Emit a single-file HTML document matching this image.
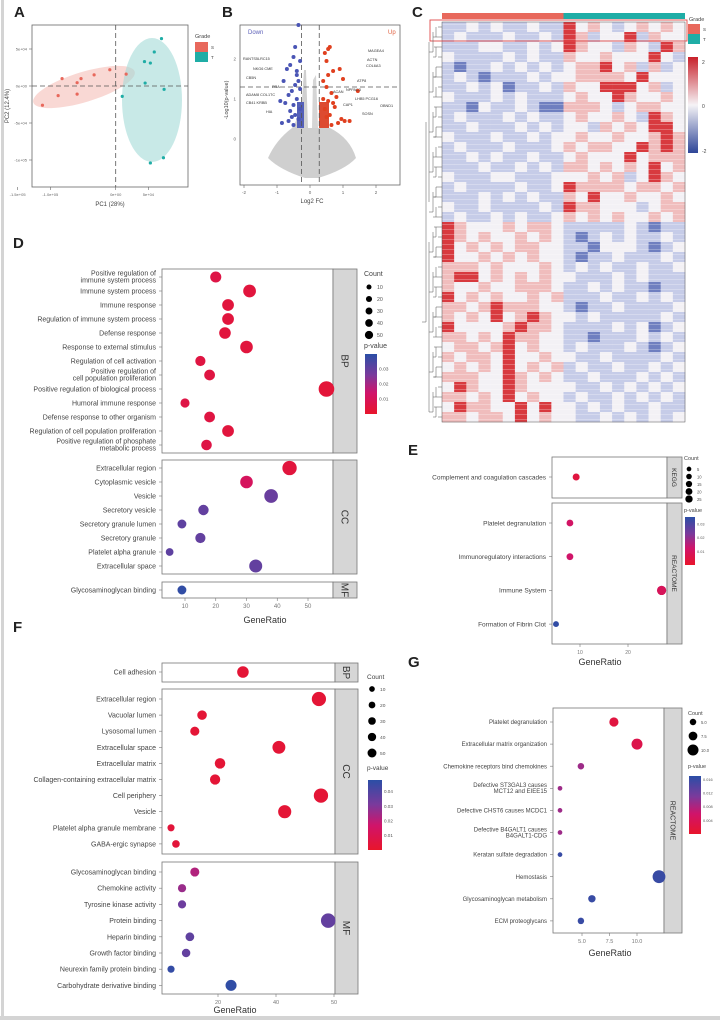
<!DOCTYPE html>
<html><head><meta charset="utf-8"><style>
html,body{margin:0;padding:0;background:#fff}
svg{display:block;font-family:"Liberation Sans",sans-serif}
</style></head><body>
<svg id="fig" width="720" height="1020" viewBox="0 0 720 1020" xmlns="http://www.w3.org/2000/svg">
<rect x="0" y="0" width="720" height="1020" fill="#fff"/>
<rect x="1" y="0" width="3" height="1020" fill="#d4d4d4"/>
<rect x="0" y="1016" width="720" height="4" fill="#d4d4d4"/>
<g id="root"></g>
</svg>
<script>
// ---------- Panel A data (PCA, units 1e4) ----------
const pcaSx=[-8.2,-5.3,-3.3,-0.9,-5.9,-8.8,-5.9,-11.2,1.6];
const pcaSy=[1.0,1.0,1.5,2.2,0.45,-1.3,-1.1,-2.6,1.6];
const pcaTx=[7.0,5.9,4.4,5.3,4.5,7.4,1.0,7.3,5.3];
const pcaTy=[6.4,4.6,3.3,3.1,0.4,-0.45,-1.4,-9.7,-10.4];
const pcaXTicks=[-15,-10,0,5];
const pcaXTickLabels=["-1.5e+05","-1.0e+05","0e+00","5e+04"];
const pcaYTicks=[5,0,-5,-10];
const pcaYTickLabels=["5e+04","0e+00","-5e+04","-1e+05"];
// ---------- Panel B data (volcano) ----------
const downFC=[-0.35,-0.5,-0.6,-0.4,-0.3,-0.7,-0.8,-0.45,-0.55,-0.65,-0.9,-0.3,-0.4,-0.5,-0.35,-0.6,-0.75,-0.45,-0.3,-0.55,-0.4,-0.85,-0.65,-0.5,-0.35,-0.45];
const downP=[2.85,2.05,1.85,1.6,1.95,1.75,1.45,1.35,1.2,1.1,0.95,1.25,1.0,0.85,1.45,0.7,0.9,0.6,0.75,0.55,1.7,0.4,0.45,0.35,0.5,2.3];
const upFC=[0.45,0.55,0.6,0.5,0.7,0.9,1.0,1.45,0.5,0.65,0.8,0.4,0.55,0.75,0.45,0.6,1.2,0.95,0.5,0.85,0.4,0.7,0.55,1.05,0.65];
const upP=[2.15,2.25,2.3,1.95,1.7,1.75,1.5,1.2,1.3,1.15,1.05,1.45,0.95,0.8,0.75,0.6,0.45,0.5,0.55,0.4,1.0,0.9,1.6,0.45,0.35];
const volXTicks=[-2,-1,0,1,2];
const volYTicks=[2,1,0];
// ---------- Panel C data (heatmap, 0=-2 ... 4=+2) ----------
const heatRows=[
"11212112114232123232","12111211214312241322","11122112124322132143","21111212113223222421",
"10112121212334231312","12101112122333324222","11212011213224442312","21112121112322432232",
"11021121003332123322","12111212112322321432","11211121212213232442","21112112122322322343",
"12111211123233224343","11212112112322242333","11121121213323232423","21112211122232312432",
"12111121124333323323","11121212113242232232","21121111214332221233","12112121123232322323",
"43222323321111121011","43232232321012121121","42323233221102221012","42232323221011211121",
"33323222321212112112","34423232322111212111","32232233321121211011","42323223231112112121",
"33234333221011211112","32324234322121111121","42222343321111212012","33232433221101112121",
"23323423221211121012","32332422322112111121","23232423231211211212","33322432321121112121",
"24322432222112121212","33232423221211212121","24332242422121211211","33233242322112121212"];
const heatColors=["#6f7fc0","#c6cce8","#f3f1f5","#f0bdbd","#d83a3f"];
// ---------- Panel D data ----------
const dBPLabels=[["Positive regulation of","immune system process"],["Immune system process"],["Immune response"],["Regulation of immune system process"],["Defense response"],["Response to external stimulus"],["Regulation of cell activation"],["Positive regulation of","cell population proliferation"],["Positive regulation of biological process"],["Humoral immune response"],["Defense response to other organism"],["Regulation of cell population proliferation"],["Positive regulation of phosphate","metabolic process"]];
const dBPRatio=[20,31,24,24,23,30,15,18,56,10,18,24,17];
const dBPP=[0.006,0.004,0.004,0.004,0.004,0.004,0.005,0.005,0.003,0.006,0.005,0.004,0.006];
const dCCLabels=[["Extracellular region"],["Cytoplasmic vesicle"],["Vesicle"],["Secretory vesicle"],["Secretory granule lumen"],["Secretory granule"],["Platelet alpha granule"],["Extracellular space"]];
const dCCRatio=[44,30,38,16,9,15,5,33];
const dCCP=[0.004,0.011,0.029,0.03,0.031,0.03,0.031,0.03];
const dMFLabels=[["Glycosaminoglycan binding"]];
const dMFRatio=[9];
const dMFP=[0.039];
const dXTicks=[10,20,30,40,50];
const dCountLegend=[10,20,30,40,50];
const dPTicks=[0.03,0.02,0.01];
// ---------- Panel E data ----------
const eKEGGLabels=[["Complement and coagulation cascades"]];
const eKEGGRatio=[9.2];
const eKEGGCount=[10];
const eKEGGP=[0.004];
const eREALabels=[["Platelet degranulation"],["Immunoregulatory interactions"],["Immune System"],["Formation of Fibrin Clot"]];
const eREARatio=[7.9,7.9,27,5];
const eREACount=[9,9,26,5];
const eREAP=[0.011,0.012,0.009,0.034];
const eXTicks=[10,20];
const eCountLegend=[5,10,15,20,25];
const eCountLabels=["5","10","15","20","25"];
const ePTicks=[0.03,0.02,0.01];
// ---------- Panel F data ----------
const fBPLabels=[["Cell adhesion"]];
const fBPRatio=[28.6];
const fBPP=[0.003];
const fCCLabels=[["Extracellular region"],["Vacuolar lumen"],["Lysosomal lumen"],["Extracellular space"],["Extracellular matrix"],["Collagen-containing extracellular matrix"],["Cell periphery"],["Vesicle"],["Platelet alpha granule membrane"],["GABA-ergic synapse"]];
const fCCRatio=[54.8,14.5,12,41,20.7,19,55.5,43,3.8,5.5];
const fCCP=[0.003,0.003,0.003,0.003,0.003,0.003,0.003,0.003,0.004,0.004];
const fMFLabels=[["Glycosaminoglycan binding"],["Chemokine activity"],["Tyrosine kinase activity"],["Protein binding"],["Heparin binding"],["Growth factor binding"],["Neurexin family protein binding"],["Carbohydrate derivative binding"]];
const fMFRatio=[12,7.6,7.6,58,10.3,9,3.8,24.5];
const fMFP=[0.022,0.026,0.034,0.036,0.037,0.036,0.046,0.047];
const fXTicks=[20,40,60];
const fXTickLabels=["20","40","50"];
const fCountLegend=[10,20,30,40,50];
const fPTicks=[0.04,0.03,0.02,0.01];
// ---------- Panel G data ----------
const gLabels=[["Platelet degranulation"],["Extracellular matrix organization"],["Chemokine receptors bind chemokines"],["Defective ST3GAL3 causes","MCT12 and EIEE15"],["Defective CHST6 causes MCDC1"],["Defective B4GALT1 causes","B4GALT1-CDG"],["Keratan sulfate degradation"],["Hemostasis"],["Glycosaminoglycan metabolism"],["ECM proteoglycans"]];
const gRatio=[7.9,10,4.9,3,3,3,3,12,5.9,4.9];
const gCount=[8,10,5,3,3,3,3,12,6,5];
const gP=[0.002,0.003,0.009,0.009,0.009,0.009,0.016,0.016,0.016,0.016];
const gXTicks=[5,7.5,10];
const gXTickLabels=["5.0","7.5","10.0"];
const gCountLegend=[5,7.5,10];
const gCountLabels=["5.0","7.5","10.0"];
const gPTicks=[0.016,0.012,0.008,0.004];

const NS="http://www.w3.org/2000/svg";
const root=document.getElementById('root');
function mk(tag,attrs,parent,txt){const e=document.createElementNS(NS,tag);for(const k in attrs)e.setAttribute(k,attrs[k]);if(txt!==undefined)e.textContent=txt;(parent||root).appendChild(e);return e;}
function grp(name){const g=document.createElementNS(NS,'g');


root.appendChild(g);return g;}
function hex(c){return [parseInt(c.substr(1,2),16),parseInt(c.substr(3,2),16),parseInt(c.substr(5,2),16)];}
const pStops=[[0,"#e8152b"],[0.35,"#d0146a"],[0.65,"#7a3a9c"],[1,"#2b4ea6"]];
function pColor(t){t=Math.max(0,Math.min(1,t));for(let i=1;i<pStops.length;i++){if(t<=pStops[i][0]){const a=pStops[i-1],b=pStops[i];const f=(t-a[0])/(b[0]-a[0]);const A=hex(a[1]),B=hex(b[1]);return "rgb("+A.map((v,j)=>Math.round(v+(B[j]-v)*f)).join(",")+")";}}return pStops[3][1];}
function panelLabel(t,x,y){const e=mk('text',{x:x,y:y,'font-size':15,'font-weight':'bold',fill:'#222'},root,t);

}

// ===== Panel A =====
(function(){
const g=grp('pca-plot');
const X=v=>115.7+v*6.54, Y=v=>86-v*7.4;
mk('rect',{x:32,y:25,width:156,height:162,fill:'#fff',stroke:'#666','stroke-width':0.8},g);
mk('ellipse',{cx:84,cy:87,rx:53,ry:15,transform:'rotate(-17 84 87)',fill:'#f4b8b0',opacity:0.55},g);
mk('ellipse',{cx:152,cy:100,rx:30,ry:62,fill:'#a3dbd7',opacity:0.6},g);
mk('line',{x1:X(0),y1:25,x2:X(0),y2:187,stroke:'#555','stroke-dasharray':'5,3','stroke-width':0.8},g);
mk('line',{x1:32,y1:Y(0),x2:188,y2:Y(0),stroke:'#555','stroke-dasharray':'5,3','stroke-width':0.8},g);
pcaSx.forEach((v,i)=>{const c=mk('circle',{cx:X(v),cy:Y(pcaSy[i]),r:1.6,fill:'#e8685c'},g);

});
pcaTx.forEach((v,i)=>{const c=mk('circle',{cx:X(v),cy:Y(pcaTy[i]),r:1.6,fill:'#1fada6'},g);

});
pcaXTicks.forEach((v,i)=>{mk('line',{x1:X(v),y1:187,x2:X(v),y2:190,stroke:'#666','stroke-width':0.6},g);mk('text',{x:X(v),y:196,'font-size':4,'text-anchor':'middle',fill:'#666'},g,pcaXTickLabels[i]);});
pcaYTicks.forEach((v,i)=>{mk('line',{x1:29,y1:Y(v),x2:32,y2:Y(v),stroke:'#666','stroke-width':0.6},g);mk('text',{x:27,y:Y(v)+1.5,'font-size':4,'text-anchor':'end',fill:'#666'},g,pcaYTickLabels[i]);});
mk('text',{x:110,y:206,'font-size':6,'text-anchor':'middle',fill:'#444'},g,'PC1 (28%)');
mk('text',{x:0,y:0,'font-size':6,'text-anchor':'middle',fill:'#444',transform:'translate(9,106) rotate(-90)'},g,'PC2 (12.4%)');
mk('text',{x:195,y:38,'font-size':5.5,fill:'#444'},g,'Grade');
mk('rect',{x:195,y:42,width:13,height:10,fill:'#e8685c'},g);mk('text',{x:211,y:49,'font-size':4.5,fill:'#444'},g,'S');
mk('rect',{x:195,y:52,width:13,height:10,fill:'#1fada6'},g);mk('text',{x:211,y:59,'font-size':4.5,fill:'#444'},g,'T');
})();
panelLabel('A',14,17);

// ===== Panel B =====
(function(){
const g=grp('volcano-plot');
const X=v=>310+v*33, Y=v=>139-v*40;
mk('rect',{x:240,y:25,width:160,height:160,fill:'#fff',stroke:'#666','stroke-width':0.8},g);
mk('path',{d:'M268,158 Q276,140 292,128 L330,128 Q350,138 356,158 Q345,170 318,178 L305,178 Q280,170 268,158 Z',fill:'#cfcfcf'},g);
mk('path',{d:'M292,128 Q298,120 302,100 L304,70 L306,70 L308,128 Z',fill:'#d0d0d0'},g);
mk('path',{d:'M312,128 L313,80 L316,75 L318,128 Z',fill:'#d5d5d5'},g);
mk('rect',{x:297,y:102,width:7,height:26,fill:'#5560b8'},g);
mk('rect',{x:319,y:102,width:10,height:26,fill:'#dd4a30'},g);
mk('line',{x1:X(-0.26),y1:25,x2:X(-0.26),y2:185,stroke:'#555','stroke-dasharray':'5,3','stroke-width':0.8},g);
mk('line',{x1:X(0.28),y1:25,x2:X(0.28),y2:185,stroke:'#555','stroke-dasharray':'5,3','stroke-width':0.8},g);
mk('line',{x1:240,y1:Y(1.3),x2:400,y2:Y(1.3),stroke:'#555','stroke-dasharray':'5,3','stroke-width':0.8},g);
downFC.forEach((v,i)=>{const c=mk('circle',{cx:X(v),cy:Y(downP[i]),r:2,fill:'#4a55b5'},g);

});
upFC.forEach((v,i)=>{const c=mk('circle',{cx:X(v),cy:Y(upP[i]),r:2,fill:'#e0401f'},g);

});
volXTicks.forEach(v=>{mk('line',{x1:X(v),y1:185,x2:X(v),y2:188,stroke:'#666','stroke-width':0.6},g);mk('text',{x:X(v),y:194,'font-size':4.5,'text-anchor':'middle',fill:'#666'},g,String(v));});
volYTicks.forEach(v=>{mk('text',{x:236,y:Y(v)+1.5,'font-size':4.5,'text-anchor':'end',fill:'#666'},g,String(v));});
mk('text',{x:248,y:34,'font-size':6,fill:'#5b5fb8'},g,'Down');
mk('text',{x:388,y:34,'font-size':6,fill:'#e0603f'},g,'Up');
const lblL=[['RANTS5LRC15',243,60],['NKG6 CME',253,70],['CB5N',246,79],['PRA',272,88],['ADAM8 COL1TC',246,96],['CB41 KRBB',246,104],['HIA',266,113]];
lblL.forEach(l=>mk('text',{x:l[1],y:l[2],'font-size':3.8,fill:'#333'},g,l[0]));
const lblR=[['MAGEA4',368,52],['ACTN',367,61],['COL6A3',366,67],['ATP8',357,82],['ACAN',333,93],['NPPAC3',346,91],['LHB5 PCG16',355,100],['CAP1',343,106],['OBND1',380,107],['SOSN',362,115]];
lblR.forEach(l=>mk('text',{x:l[1],y:l[2],'font-size':3.8,fill:'#333'},g,l[0]));
mk('text',{x:312,y:203,'font-size':6,'text-anchor':'middle',fill:'#444'},g,'Log2 FC');
mk('text',{x:0,y:0,'font-size':5.5,'text-anchor':'middle',fill:'#444',transform:'translate(228,100) rotate(-90)'},g,'-Log10(p-value)');
})();
panelLabel('B',222,17);

// ===== Panel C =====
(function(){
const g=grp('heatmap');
const x0=442,x1=685,y0=22,y1=422;
const nC=heatRows[0].length,nR=heatRows.length;
const cw=(x1-x0)/nC,rh=(y1-y0)/nR;
mk('rect',{x:x0,y:13,width:(x1-x0)/2,height:6,fill:'#e8685c'},g);
mk('rect',{x:x0+(x1-x0)/2,y:13,width:(x1-x0)/2,height:6,fill:'#1fada6'},g);
heatRows.forEach((row,r)=>{for(let c=0;c<nC;c++){const cell=mk('rect',{x:x0+c*cw,y:y0+r*rh,width:cw+0.3,height:rh+0.3,fill:heatColors[+row[c]]},g);

}});
// thin row banding overlay (texture)
let band='';for(let y=y0+2.5;y<y1;y+=5){band+=`M${x0},${y}H${x1}`;}
mk('path',{d:band,stroke:'#ffffff','stroke-width':0.8,opacity:0.35,fill:'none'},g);
mk('rect',{x:x0,y:y0,width:x1-x0,height:y1-y0,fill:'none',stroke:'#555','stroke-width':0.5},g);
mk('rect',{x:430,y:20,width:257,height:21,fill:'none',stroke:'#e04a4a','stroke-width':0.9},g);
let d='';for(let r=0;r<nR;r++){const y=y0+r*rh+rh/2;d+=`M${x0},${y}H${x0-4-(r%3)*2}`;}
for(let r=0;r<nR;r+=2){const ya=y0+r*rh+rh/2,yb=ya+rh;d+=`M${x0-6},${ya}V${yb}H${x0-9}`;}
for(let r=0;r<nR;r+=4){const ya=y0+r*rh+rh,yb=ya+2*rh;d+=`M${x0-9},${ya}V${yb}H${x0-13}`;}
d+=`M${x0-13},${y0+20}V${y0+180}M${x0-13},${y0+220}V${y0+390}M${x0-16},${y0+100}V${y0+300}H${x0-20}`;
mk('path',{d:d,fill:'none',stroke:'#555','stroke-width':0.5},g);
mk('text',{x:689,y:21,'font-size':5.5,fill:'#444'},g,'Grade');
mk('rect',{x:688,y:24,width:12,height:10,fill:'#e8685c'},g);mk('text',{x:703,y:31,'font-size':4.5,fill:'#444'},g,'S');
mk('rect',{x:688,y:34,width:12,height:10,fill:'#1fada6'},g);mk('text',{x:703,y:41,'font-size':4.5,fill:'#444'},g,'T');
const lg=mk('linearGradient',{id:'hmg',x1:0,y1:0,x2:0,y2:1},g);
[['0','#c8202a'],['0.5','#f5f3f6'],['1','#2e4597']].forEach(s=>mk('stop',{offset:s[0],'stop-color':s[1]},lg));
mk('rect',{x:688,y:57,width:10,height:96,fill:'url(#hmg)'},g);
mk('text',{x:702,y:64,'font-size':5,fill:'#444'},g,'2');
mk('text',{x:702,y:108,'font-size':5,fill:'#444'},g,'0');
mk('text',{x:702,y:153,'font-size':5,fill:'#444'},g,'-2');
})();
panelLabel('C',412,17);

// ===== Dot plot helper =====
function dotPanel(o){
const g=grp(o.name);
const X=v=>o.px0+(v-o.d0)*(o.px1-o.px0)/(o.d1-o.d0);
o.facets.forEach(f=>{
 mk('rect',{x:o.px0a,y:f.y0,width:o.stripX-o.px0a,height:f.y1-f.y0,fill:'#fff',stroke:'#777','stroke-width':0.8},g);
 mk('rect',{x:o.stripX,y:f.y0,width:o.stripW,height:f.y1-f.y0,fill:'#d6d6d6',stroke:'#777','stroke-width':0.8},g);
 const cy=(f.y0+f.y1)/2;
 mk('text',{x:0,y:0,'font-size':o.stripFont,'text-anchor':'middle',fill:'#333',transform:`translate(${o.stripX+o.stripW/2-o.stripFont*0.35},${cy}) rotate(90)`},g,f.strip);
 f.labels.forEach((lab,i)=>{
  const y=f.first+i*f.step;
  mk('line',{x1:o.px0a-3,y1:y,x2:o.px0a,y2:y,stroke:'#777','stroke-width':0.6},g);
  if(lab.length===1) mk('text',{x:o.px0a-6,y:y+o.font*0.35,'font-size':o.font,'text-anchor':'end',fill:'#444'},g,lab[0]);
  else{mk('text',{x:o.px0a-6,y:y-o.font*0.2,'font-size':o.font,'text-anchor':'end',fill:'#444'},g,lab[0]);mk('text',{x:o.px0a-6,y:y+o.font*0.8,'font-size':o.font,'text-anchor':'end',fill:'#444'},g,lab[1]);}
  const c=mk('circle',{cx:X(f.ratio[i]),cy:y,r:o.rad(f.count?f.count[i]:f.ratio[i]),fill:pColor(f.p[i]/o.pmax)},g);
  
  
 });
});
const last=o.facets[o.facets.length-1];
o.xTicks.forEach((v,i)=>{mk('line',{x1:X(v),y1:last.y1,x2:X(v),y2:last.y1+3,stroke:'#777','stroke-width':0.6},g);mk('text',{x:X(v),y:last.y1+10,'font-size':o.tickFont,'text-anchor':'middle',fill:'#777'},g,o.xTickLabels?o.xTickLabels[i]:String(v));});
mk('text',{x:o.titleX,y:o.titleY,'font-size':o.titleFont,'text-anchor':'middle',fill:'#333'},g,'GeneRatio');
const L=o.leg;const ls=L.ls||1;
mk('text',{x:L.x,y:L.y,'font-size':L.font,fill:'#444'},g,'Count');
o.countLegend.forEach((c,i)=>{const y=L.y+L.cy0+i*L.cstep;mk('circle',{cx:L.x+5,cy:y,r:o.rad(c)*ls,fill:'#000'},g);mk('text',{x:L.x+13,y:y+2,'font-size':L.font*0.75,fill:'#555'},g,o.countLabels?o.countLabels[i]:String(c));});
mk('text',{x:L.x,y:L.py,'font-size':L.font,fill:'#444'},g,'p-value');
const gid='pg'+o.name;const lg=mk('linearGradient',{id:gid,x1:0,y1:1,x2:0,y2:0},g);
pStops.forEach(s=>mk('stop',{offset:s[0],'stop-color':s[1]},lg));
mk('rect',{x:L.x+1,y:L.by0,width:L.bw,height:L.by1-L.by0,fill:`url(#${gid})`},g);
o.pTicks.forEach(p=>{const y=L.by1-(p/o.pmax)*(L.by1-L.by0);mk('text',{x:L.x+L.bw+3,y:y+1.5,'font-size':L.font*0.7,fill:'#555'},g,String(p));});
}

// ===== Panel D =====
dotPanel({name:'go-dotplot-d',px0a:162,stripX:333,stripW:24,px0:185,px1:308,d0:10,d1:50,pmax:0.04,font:7,stripFont:10,tickFont:6,titleFont:9,titleX:265,titleY:623,
rad:c=>2.2+0.75*Math.sqrt(c),
facets:[{strip:'BP',y0:269,y1:453,first:277,step:14,labels:dBPLabels,ratio:dBPRatio,p:dBPP},
{strip:'CC',y0:460,y1:574,first:468,step:14,labels:dCCLabels,ratio:dCCRatio,p:dCCP},
{strip:'MF',y0:582,y1:598,first:590,step:14,labels:dMFLabels,ratio:dMFRatio,p:dMFP}],
xTicks:dXTicks,countLegend:dCountLegend,pTicks:dPTicks,
leg:{x:364,y:276,font:7,cy0:11,cstep:12,py:348,by0:354,by1:414,bw:12,ls:0.55}});
panelLabel('D',13,248);

// ===== Panel E =====
dotPanel({name:'pathway-dotplot-e',px0a:552,stripX:667,stripW:15,px0:580,px1:628,d0:10,d1:20,pmax:0.035,font:6.5,stripFont:6.5,tickFont:5,titleX:600,titleY:665,titleFont:9,
rad:c=>1.6+0.6*Math.sqrt(c),
facets:[{strip:'KEGG',y0:457,y1:498,first:477,step:30,labels:eKEGGLabels,ratio:eKEGGRatio,count:eKEGGCount,p:eKEGGP},
{strip:'REACTOME',y0:503,y1:644,first:523,step:33.7,labels:eREALabels,ratio:eREARatio,count:eREACount,p:eREAP}],
xTicks:eXTicks,countLegend:eCountLegend,countLabels:eCountLabels,pTicks:ePTicks,
leg:{x:684,y:460,font:5.5,cy0:9,cstep:7.5,py:512,by0:517,by1:565,bw:10,ls:0.8}});
panelLabel('E',408,455);

// ===== Panel F =====
dotPanel({name:'go-dotplot-f',px0a:162,stripX:335,stripW:23,px0:218,px1:334,d0:20,d1:60,pmax:0.048,font:7,stripFont:10,tickFont:5.5,titleFont:9,titleX:235,titleY:1013,
rad:c=>2.3+0.65*Math.sqrt(c),
facets:[{strip:'BP',y0:663,y1:682,first:672,step:16,labels:fBPLabels,ratio:fBPRatio,p:fBPP},
{strip:'CC',y0:689,y1:854,first:699,step:16.1,labels:fCCLabels,ratio:fCCRatio,p:fCCP},
{strip:'MF',y0:862,y1:994,first:872,step:16.2,labels:fMFLabels,ratio:fMFRatio,p:fMFP}],
xTicks:fXTicks,xTickLabels:fXTickLabels,countLegend:fCountLegend,pTicks:fPTicks,
leg:{x:367,y:679,font:6.5,cy0:10,cstep:16,py:770,by0:780,by1:850,bw:14,ls:0.65}});
panelLabel('F',13,632);

// ===== Panel G =====
dotPanel({name:'reactome-dotplot-g',px0a:553,stripX:664,stripW:18,px0:582,px1:637,d0:5,d1:10,pmax:0.017,font:6,stripFont:7,tickFont:5.5,titleFont:9,titleX:610,titleY:956,
rad:c=>1+0.45*c,
facets:[{strip:'REACTOME',y0:708,y1:933,first:722,step:22.1,labels:gLabels,ratio:gRatio,count:gCount,p:gP}],
xTicks:gXTicks,xTickLabels:gXTickLabels,countLegend:gCountLegend,countLabels:gCountLabels,pTicks:gPTicks,
leg:{x:688,y:715,font:5.5,cy0:7,cstep:14,py:768,by0:776,by1:834,bw:12}});
panelLabel('G',408,667);
</script>
</body></html>
